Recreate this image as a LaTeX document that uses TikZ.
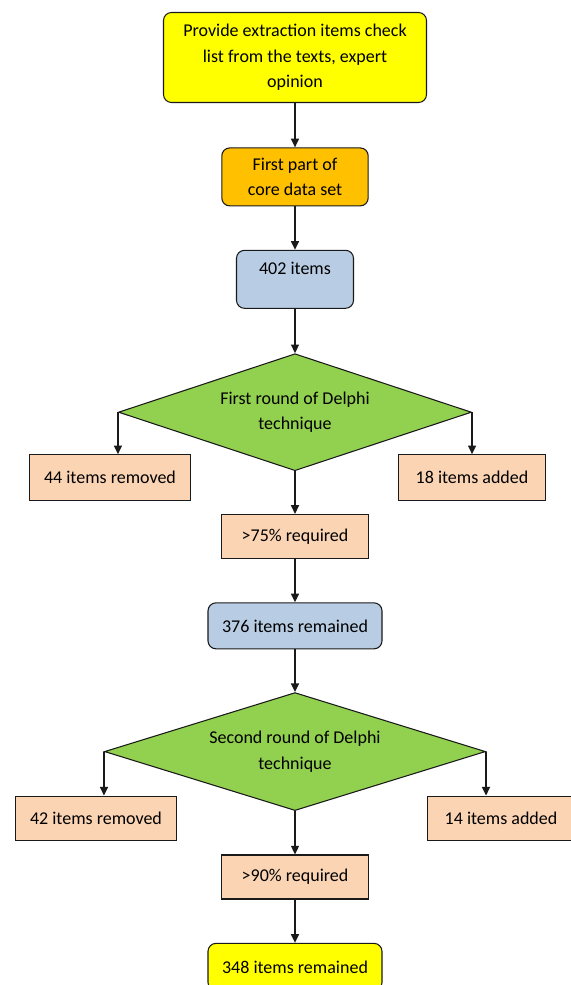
\documentclass[tikz,border=0pt]{standalone}
\usepackage{fontspec}
\setmainfont{Carlito}
\usepackage{tikz}
\usetikzlibrary{positioning, arrows.meta, shapes.geometric}
\definecolor{lemon}{HTML}{FFFF00}
\definecolor{amber}{HTML}{FFC000}
\definecolor{steel}{HTML}{B8CCE4}
\definecolor{leaf}{HTML}{92D050}
\definecolor{peach}{HTML}{FBD4B4}
\definecolor{ink}{HTML}{1A1A1A}
\tikzset{
  txt/.style     = {font=\fontsize{13.5}{19}\selectfont},
  start/.style   = {rectangle, rounded corners=6pt, draw=ink, line width=0.8pt,
                    fill=lemon, align=center, inner sep=0pt, txt},
  core/.style    = {rectangle, rounded corners=6pt, draw=ink, line width=0.8pt,
                    fill=amber, align=center, inner sep=0pt, txt},
  count/.style   = {rectangle, rounded corners=6pt, draw=ink, line width=0.8pt,
                    fill=steel, align=center, inner sep=0pt, txt},
  round/.style   = {diamond, draw=ink, line width=0.8pt, fill=leaf, aspect=3,
                    inner sep=0pt, align=center, txt},
  side/.style    = {rectangle, draw=ink, line width=0.8pt, fill=peach,
                    align=center, inner sep=0pt, minimum height=34.5pt, txt},
  ar/.style      = {-{Triangle[length=6.5pt,width=6pt]}, line width=1.1pt, draw=ink},
}
\begin{document}
\begin{tikzpicture}[node distance=32.5pt]

  \useasboundingbox (0,0) rectangle (428.25pt,-738.75pt);

  % Start and first data set
  \node[start, minimum width=197.25pt, minimum height=67.5pt] (src) at (221.25pt,-43.125pt)
       {Provide extraction items check\\list from the texts, expert\\opinion};
  \node[core, below=33.25pt of src, minimum width=109.8pt, minimum height=43.5pt] (first)
       {First part of\\core data set};
  \node[count, below=of first, minimum width=87.75pt, text height=18pt, text depth=25.5pt] (n402)
       {402 items};

  % First Delphi round
  \node[round, below=33.25pt of n402, minimum width=264.75pt, minimum height=87.75pt, aspect=3.02] (rnd1)
       {First round of Delphi\\technique};
  \node[side, below=31.5pt of rnd1.west, xshift=-6pt, minimum width=120.75pt] (rem1) {44 items removed};
  \node[side, below=31.5pt of rnd1.east, minimum width=110.25pt] (add1) {18 items added};
  \node[side, below=32pt of rnd1, minimum width=109.8pt, minimum height=33pt] (req1) {>75\% required};
  \node[count, below=32.5pt of req1, minimum width=130.5pt, minimum height=34.5pt] (n376)
       {376 items remained};

  % Second Delphi round
  \node[round, below=32pt of n376, minimum width=285.75pt, minimum height=88.5pt, aspect=3.23] (rnd2)
       {Second round of Delphi\\technique};
  \node[side, below=33pt of rnd2.west, xshift=-6pt, minimum width=120.75pt, minimum height=33pt] (rem2) {42 items removed};
  \node[side, below=33pt of rnd2.east, xshift=11.25pt, minimum width=110.25pt, minimum height=33pt] (add2) {14 items added};
  \node[side, below=of rnd2, minimum width=109.8pt, minimum height=33pt] (req2) {>90\% required};
  \node[start, below=32.5pt of req2, minimum width=130.5pt, minimum height=35.25pt] (n348)
       {348 items remained};

  % Arrows
  \draw[ar] (src) -- (first);
  \draw[ar] (first) -- (n402);
  \draw[ar] (n402) -- (rnd1);
  \draw[ar] (rnd1.west) -- (rnd1.west |- rem1.north);
  \draw[ar] (rnd1.east) -- (rnd1.east |- add1.north);
  \draw[ar] (rnd1) -- (req1);
  \draw[ar] (req1) -- (n376);
  \draw[ar] (n376) -- (rnd2);
  \draw[ar] (rnd2.west) -- (rnd2.west |- rem2.north);
  \draw[ar] (rnd2.east) -- (rnd2.east |- add2.north);
  \draw[ar] (rnd2) -- (req2);
  \draw[ar] (req2) -- (n348);

\end{tikzpicture}
\end{document}
